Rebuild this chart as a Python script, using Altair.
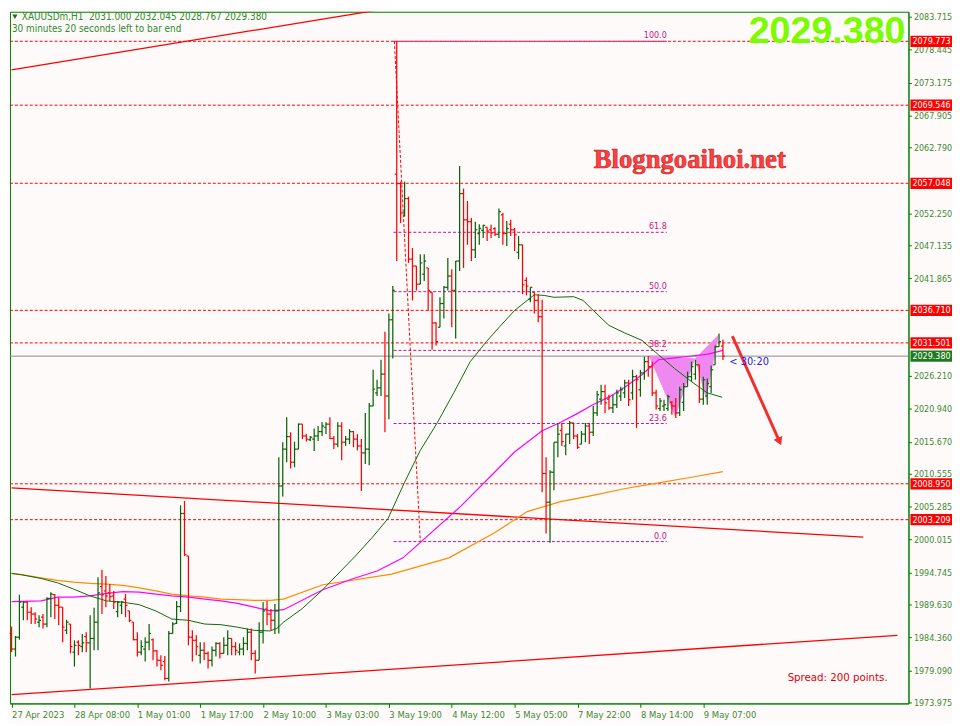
import altair as alt
import pandas as pd

# ------------------------------------------------------------------ data
opens = [1985.0, 1982.5, 1984.4, 1989.2, 1990.0, 1988.4, 1988.1, 1986.8, 1987.6, 1986.5,
         1990.6, 1991.2, 1989.5, 1989.2, 1985.5, 1986.5, 1982.0, 1983.6, 1982.9, 1984.5,
         1983.5, 1984.2, 1986.8, 1992.5, 1991.8, 1991.5, 1991.0, 1988.5, 1989.5, 1990.5,
         1988.6, 1986.8, 1984.0, 1982.0, 1982.5, 1983.6, 1984.0, 1982.2, 1980.7, 1980.5,
         1977.8, 1985.0, 1986.6, 1989.3, 2004.2, 1997.4, 1984.4, 1983.9, 1981.5, 1982.3,
         1981.8, 1980.7, 1982.3, 1983.4, 1981.8, 1983.1, 1984.2, 1982.9, 1982.0, 1982.5,
         1983.4, 1985.2, 1981.8, 1980.7, 1985.2, 1988.9, 1988.1, 1987.1, 1988.6, 2008.6,
         2014.5, 2016.5, 2012.4, 2014.5, 2018.5, 2016.6, 2016.0, 2016.1, 2016.6, 2017.3,
         2018.0, 2018.5, 2016.2, 2015.3, 2018.2, 2015.6, 2016.1, 2017.3, 2016.1, 2015.0,
         2013.9, 2014.5, 2021.4, 2023.5, 2024.3, 2026.5, 2023.0, 2035.2, 2058.5, 2057.0,
         2052.3, 2054.6, 2044.9, 2043.8, 2040.9, 2042.5, 2043.5, 2039.6, 2034.7, 2034.0,
         2037.8, 2040.4, 2042.2, 2039.9, 2044.6, 2055.4, 2051.2, 2050.9, 2046.4, 2049.0,
         2049.5, 2050.0, 2049.6, 2049.8, 2048.9, 2052.0, 2049.0, 2050.5, 2049.6, 2046.0,
         2047.2, 2041.5, 2038.5, 2039.6, 2038.3, 2035.7, 2010.6, 2006.0, 2010.8, 2015.6,
         2017.5, 2015.0, 2016.9, 2018.7, 2016.6, 2015.3, 2016.9, 2018.2, 2017.2, 2020.3,
         2022.5, 2023.7, 2022.5, 2021.1, 2021.6, 2023.0, 2023.5, 2025.1, 2023.5, 2026.1,
         2024.0, 2026.7, 2028.5, 2027.7, 2023.5, 2021.0, 2021.4, 2021.0, 2022.0, 2021.4,
         2020.3, 2022.0, 2024.5, 2026.1, 2026.5, 2028.0, 2022.5, 2023.0, 2024.5, 2028.0,
         2030.9, 2031.0]
highs = [1986.1, 1984.6, 1991.2, 1990.1, 1990.1, 1989.2, 1988.4, 1987.9, 1988.1, 1990.8,
         1991.6, 1991.3, 1990.8, 1989.2, 1987.2, 1986.5, 1983.9, 1983.9, 1984.9, 1985.2,
         1987.9, 1989.1, 1994.0, 1995.2, 1994.2, 1992.9, 1991.8, 1990.2, 1990.2, 1991.3,
         1988.6, 1986.8, 1985.2, 1983.9, 1984.4, 1986.5, 1984.2, 1982.3, 1981.5, 1981.4,
         1985.4, 1986.8, 1990.2, 2005.5, 2006.2, 1997.4, 1985.5, 1984.7, 1983.6, 1983.6,
         1982.1, 1982.9, 1983.6, 1983.6, 1984.4, 1985.5, 1984.2, 1983.6, 1983.4, 1984.4,
         1985.8, 1985.8, 1982.3, 1986.8, 1990.0, 1990.2, 1988.9, 1989.7, 2013.2, 2015.6,
         2019.6, 2017.2, 2015.7, 2018.6, 2018.5, 2016.9, 2016.6, 2017.8, 2018.2, 2018.8,
         2018.8, 2019.6, 2016.6, 2018.8, 2018.8, 2016.6, 2017.7, 2017.4, 2016.9, 2016.1,
         2020.3, 2021.9, 2027.2, 2025.6, 2028.8, 2033.3, 2036.2, 2040.6, 2079.773, 2057.3,
         2057.3, 2054.9, 2046.7, 2043.8, 2045.7, 2045.7, 2043.5, 2039.6, 2034.8, 2038.8,
         2040.6, 2045.1, 2043.3, 2044.6, 2059.8, 2056.2, 2054.2, 2051.5, 2050.9, 2050.5,
         2050.4, 2050.0, 2050.4, 2050.0, 2053.0, 2052.3, 2051.0, 2051.2, 2049.9, 2048.6,
         2047.2, 2042.0, 2040.4, 2039.6, 2039.3, 2038.4, 2013.2, 2011.1, 2015.6, 2018.7,
         2018.7, 2016.9, 2019.0, 2018.7, 2016.9, 2017.4, 2018.7, 2018.7, 2021.4, 2023.8,
         2024.8, 2024.8, 2023.2, 2023.2, 2024.0, 2024.5, 2025.6, 2025.6, 2027.2, 2026.4,
         2027.2, 2029.3, 2029.4, 2028.5, 2024.0, 2022.7, 2022.4, 2023.2, 2022.2, 2022.7,
         2024.5, 2025.1, 2026.9, 2028.5, 2028.8, 2028.0, 2026.1, 2025.8, 2027.9, 2031.1,
         2033.0, 2032.045]
lows = [1982.0, 1981.3, 1984.0, 1987.1, 1987.1, 1986.5, 1986.5, 1986.0, 1985.8, 1986.0,
        1987.6, 1987.3, 1986.3, 1983.6, 1984.9, 1981.8, 1979.7, 1981.5, 1982.0, 1982.0,
        1976.2, 1982.3, 1982.3, 1988.1, 1989.2, 1990.2, 1988.9, 1987.6, 1988.1, 1987.6,
        1986.8, 1983.9, 1981.3, 1981.5, 1980.5, 1982.3, 1980.7, 1979.7, 1979.1, 1977.5,
        1977.3, 1985.0, 1986.5, 1988.4, 1997.4, 1983.1, 1980.5, 1981.5, 1980.2, 1980.7,
        1979.4, 1979.7, 1981.3, 1981.0, 1981.8, 1981.5, 1981.5, 1981.5, 1981.5, 1981.5,
        1982.3, 1980.7, 1978.6, 1980.7, 1983.4, 1986.3, 1985.5, 1984.9, 1985.0, 2006.9,
        2012.4, 2011.4, 2011.6, 2014.5, 2016.1, 2015.7, 2015.8, 2014.2, 2015.8, 2016.6,
        2016.9, 2016.1, 2014.5, 2014.8, 2012.7, 2015.0, 2015.3, 2014.8, 2014.3, 2007.8,
        2012.1, 2011.9, 2021.4, 2023.0, 2023.0, 2017.2, 2019.3, 2029.0, 2044.6, 2050.7,
        2051.7, 2044.3, 2038.3, 2039.9, 2040.9, 2041.4, 2036.7, 2030.4, 2031.1, 2034.0,
        2035.4, 2039.9, 2034.0, 2032.2, 2043.0, 2043.5, 2047.2, 2044.6, 2045.1, 2047.2,
        2048.3, 2047.8, 2048.3, 2048.6, 2048.3, 2047.2, 2047.0, 2048.6, 2046.2, 2044.9,
        2039.3, 2039.1, 2038.0, 2036.2, 2034.8, 2007.6, 2001.0, 1999.5, 2007.9, 2013.2,
        2015.0, 2013.5, 2015.3, 2016.1, 2014.5, 2015.3, 2015.6, 2015.3, 2016.6, 2019.8,
        2021.6, 2020.3, 2020.8, 2020.3, 2021.1, 2022.2, 2022.7, 2021.4, 2022.4, 2017.9,
        2022.9, 2025.6, 2026.1, 2023.0, 2020.8, 2020.6, 2020.6, 2020.6, 2020.0, 2019.5,
        2019.8, 2020.6, 2024.5, 2025.3, 2025.6, 2021.9, 2021.6, 2021.6, 2023.5, 2028.0,
        2030.9, 2028.767]
closes = [1982.5, 1984.4, 1990.0, 1990.0, 1988.4, 1988.1, 1987.3, 1987.1, 1986.5, 1990.6,
          1991.3, 1989.5, 1989.2, 1986.0, 1986.8, 1982.9, 1983.1, 1983.1, 1983.5, 1983.5,
          1984.2, 1986.8, 1991.5, 1991.2, 1991.0, 1990.9, 1990.0, 1990.0, 1990.0, 1989.5,
          1987.1, 1984.0, 1982.0, 1982.9, 1983.6, 1985.0, 1982.2, 1980.7, 1979.9, 1977.8,
          1985.0, 1986.5, 1989.3, 2004.2, 1997.6, 1984.4, 1983.9, 1982.9, 1982.3, 1981.8,
          1980.7, 1982.3, 1983.4, 1981.8, 1983.1, 1984.2, 1982.9, 1982.3, 1982.5, 1983.4,
          1985.2, 1981.8, 1980.7, 1985.2, 1988.6, 1988.1, 1987.1, 1988.6, 2008.6, 2014.5,
          2016.5, 2012.4, 2014.5, 2018.5, 2016.6, 2016.1, 2016.4, 2016.6, 2017.3, 2018.2,
          2018.5, 2016.2, 2015.3, 2018.2, 2015.6, 2016.1, 2017.3, 2016.1, 2015.0, 2013.9,
          2014.5, 2021.4, 2024.1, 2024.3, 2026.5, 2023.0, 2035.2, 2039.9, 2057.0, 2052.3,
          2054.6, 2044.9, 2043.8, 2040.9, 2044.3, 2044.6, 2039.9, 2034.7, 2031.7, 2037.8,
          2040.4, 2042.2, 2039.9, 2044.6, 2055.4, 2051.2, 2050.9, 2046.4, 2049.6, 2049.8,
          2050.3, 2049.4, 2049.1, 2048.9, 2052.5, 2049.0, 2049.8, 2049.6, 2048.8, 2047.2,
          2040.8, 2040.6, 2040.4, 2038.3, 2035.7, 2010.6, 2006.0, 2010.8, 2015.6, 2016.9,
          2015.7, 2016.9, 2018.7, 2016.6, 2014.8, 2016.9, 2018.2, 2017.2, 2020.3, 2023.2,
          2023.7, 2021.9, 2021.1, 2021.6, 2023.5, 2024.0, 2025.1, 2022.4, 2026.1, 2025.6,
          2026.7, 2028.5, 2027.7, 2023.5, 2021.4, 2022.2, 2021.6, 2022.9, 2021.4, 2020.3,
          2024.0, 2024.5, 2026.1, 2027.7, 2028.0, 2022.5, 2025.6, 2025.0, 2027.2, 2030.9,
          2031.7, 2029.38]

time_label_bars = [0, 16, 32, 48, 64, 80, 96, 112, 128, 144, 160, 176]
time_labels = ["27 Apr 2023", "28 Apr 08:00", "1 May 01:00", "1 May 17:00", "2 May 10:00",
               "3 May 03:00", "3 May 19:00", "4 May 12:00", "5 May 05:00", "7 May 22:00",
               "8 May 14:00", "9 May 07:00"]
price_ticks = [2083.715, 2078.445, 2073.175, 2067.905, 2062.790, 2052.250, 2047.135,
               2041.865, 2026.210, 2020.940, 2015.670, 2010.555, 2005.285, 2000.015,
               1994.745, 1989.630, 1984.360, 1979.090, 1973.975]

# moving averages (bar index, price)
ma_fast_bar = [0, 2.5, 7.5, 11.7, 15.8, 20, 24.2, 28.3, 32.5, 36.7, 40.8, 45, 49.2, 53.3, 57.5,
               61.7, 65.8, 67.5, 69.2, 74, 79, 87.5, 91.7, 95.8, 100, 104, 108.3, 112.5, 116.7,
               120.8, 124.2, 128, 133, 135.5, 138, 143, 145.4, 148, 152, 156, 160.4, 164.6,
               168.7, 173, 177, 180.8]
ma_fast_val = [1994.6, 1994.4, 1993.8, 1993.1, 1992.1, 1991.0, 1990.2, 1990.0, 1989.6, 1988.6,
               1987.3, 1987.1, 1986.5, 1986.4, 1986.0, 1985.5, 1985.4, 1985.8, 1986.8, 1989.0,
               1991.9, 1997.4, 2000.3, 2003.4, 2009.2, 2014.3, 2018.7, 2023.5, 2028.5, 2031.7,
               2034.1, 2036.7, 2039.2, 2039.1, 2038.8, 2038.9, 2038.3, 2036.7, 2034.3, 2033.1,
               2031.9, 2029.6, 2027.4, 2025.3, 2023.5, 2022.8]
ma_mid_bar = [0, 7.5, 11.7, 15.8, 20, 24.2, 28.3, 32.5, 36.7, 40.8, 45, 49.2, 53.3, 57.5, 61.7,
              65.8, 69.2, 79.2, 87, 93, 99.6, 114.2, 122.9, 127.9, 134.9, 139.7, 143.7, 147.9,
              152.2, 156.2, 160.4, 164.6, 168.7, 173, 177.2, 181]
ma_mid_val = [1990.1, 1990.2, 1990.8, 1990.8, 1991.0, 1991.4, 1991.7, 1991.6, 1991.3, 1991.0,
              1990.8, 1990.5, 1990.2, 1989.8, 1989.2, 1988.6, 1988.8, 1992.0, 1993.8, 1995.0,
              1997.1, 2005.3, 2010.8, 2014.0, 2017.4, 2018.8, 2020.1, 2021.6, 2022.9, 2024.5,
              2026.4, 2028.8, 2029.1, 2029.4, 2029.7, 2030.3]
ma_slow_bar = [0, 2.5, 7.5, 11.7, 15.8, 20, 24.2, 28.3, 32.5, 36.7, 40.8, 45, 49.2, 53.3, 57.5,
               61.7, 65.8, 69.2, 79.2, 96.7, 111.3, 122.9, 131.2, 139.7, 147.9, 156.2, 164.6,
               173, 181]
ma_slow_val = [1994.6, 1994.4, 1993.9, 1993.5, 1993.2, 1993.0, 1992.9, 1992.7, 1992.3, 1991.8,
               1991.3, 1991.0, 1990.8, 1990.5, 1990.4, 1990.3, 1990.3, 1990.5, 1992.8, 1994.5,
               1997.1, 2001.1, 2004.5, 2006.1, 2007.1, 2008.2, 2009.1, 2010.0, 2010.9]

level_prices = [2079.773, 2069.546, 2057.048, 2036.710, 2031.501, 2008.950, 2003.209]
last_price = 2029.380

fib_names = ["100.0", "61.8", "50.0", "38.2", "23.6", "0.0"]
fib_prices = [2079.773, 2049.2, 2039.7, 2030.3, 2018.6, 1999.7]
fib_start_bar, fib_end_bar = 97.2, 166.7
fib_diag_bar = [97.4, 104.0]
fib_diag_price = [2079.773, 1999.7]

trend_id = ["a", "a", "b", "b", "c", "c"]
trend_bar = [0, 98.4, 0, 216.7, 0, 225.4]
trend_price = [2075.2, 2085.3, 2008.3, 2000.4, 1975.2, 1984.7]

tri1_bar = [162.1, 168.9, 173.9]
tri1_top = [2029.5, 2029.3, 2029.0]
tri1_bot = [2029.5, 2019.6, 2029.0]
tri2_bar = [173.9, 176.7, 180.0]
tri2_top = [2029.0, 2030.8, 2032.9]
tri2_bot = [2029.0, 2022.5, 2032.9]

arrow_bar = [183.4, 195.4]
arrow_price = [2032.6, 2015.7]

header_line1 = "XAUUSDm,H1\u00a0 2031.000 2032.045 2028.767 2029.380"
header_line2 = "30 minutes 20 seconds left to bar end"
big_price = "2029.380"
blog_text = "Blogngoaihoi.net"
timer_text = "< 30:20"
spread_text = "Spread: 200 points."

# ------------------------------------------------------------------ style
FRAME = "#008000"
UP = "#086408"
DOWN = "#FF0000"
AXLBL = "#3C8A32"
FIB = "#C71585"
BG = "#FFFAFA"
FONT = "DejaVu Sans Condensed, Liberation Sans, sans-serif"

XS = alt.Scale(domain=[-0.4, 228.2], nice=False, zero=False)
YS = alt.Scale(domain=[1973.8, 2084.5], nice=False, zero=False)

label_expr = ("[" + ",".join("'" + s + "'" for s in time_labels) + "][indexof(["
              + ",".join(str(v) for v in time_label_bars) + "], datum.value)]")

X_AXIS = alt.Axis(values=time_label_bars, labelExpr=label_expr, orient="bottom",
                  labelAlign="left", labelBaseline="top", labelPadding=2, tickSize=4,
                  tickColor=FRAME, domainColor=FRAME, labelColor=AXLBL, labelFont=FONT,
                  labelFontSize=9.5, grid=False, labelFlush=False, labelOverlap=False,
                  title=None)
Y_AXIS = alt.Axis(orient="right", values=price_ticks, format=".3f", tickSize=3,
                  tickColor=FRAME, domainColor=FRAME, labelColor=AXLBL, labelFont=FONT,
                  labelFontSize=9, labelPadding=2, grid=False, labelFlush=False,
                  labelOverlap=False, title=None)


def X(f):
    return alt.X(f, type="quantitative", scale=XS, axis=X_AXIS, title=None)


def Y(f):
    return alt.Y(f, type="quantitative", scale=YS, axis=Y_AXIS, title=None)


# ------------------------------------------------------------------ layers
n = len(opens)
bars = pd.DataFrame({"i": list(range(n)), "o": opens, "h": highs, "l": lows, "c": closes})
bars["dir"] = ["up" if c >= o else "down" for o, c in zip(opens, closes)]
bcolor = alt.Color("dir:N", scale=alt.Scale(domain=["up", "down"], range=[UP, DOWN]), legend=None)
bbase = alt.Chart(bars)

wick = bbase.mark_rule(strokeWidth=1.25).encode(
    x=X("i"), y=Y("l"), y2=alt.Y2("h"), color=bcolor)
otick = bbase.transform_calculate(io="datum.i - 0.5").mark_rule(strokeWidth=1.25).encode(
    x=X("io"), x2=alt.X2("i"), y=Y("o"), color=bcolor)
ctick = bbase.transform_calculate(ic="datum.i + 0.5").mark_rule(strokeWidth=1.25).encode(
    x=X("i"), x2=alt.X2("ic"), y=Y("c"), color=bcolor)

levels_df = pd.DataFrame({"p": level_prices, "lab": [f"{p:.3f}" for p in level_prices]})
levels = alt.Chart(levels_df).mark_rule(color=DOWN, strokeWidth=1, strokeDash=[3, 2]).encode(y=Y("p"))

last_df = pd.DataFrame({"p": [last_price], "lab": [f"{last_price:.3f}"]})
bid = alt.Chart(last_df).mark_rule(color="#8A8A8A", strokeWidth=1).encode(y=Y("p"))

fib_df = pd.DataFrame({"p": fib_prices, "name": fib_names,
                       "s": [fib_start_bar] * len(fib_prices), "e": [fib_end_bar] * len(fib_prices)})
fib_lines = alt.Chart(fib_df).mark_rule(color=FIB, strokeWidth=1, strokeDash=[3, 2]).encode(
    x=X("s"), x2=alt.X2("e"), y=Y("p"))
fib_text = alt.Chart(fib_df).mark_text(align="right", baseline="bottom", dy=-1, color=FIB,
                                       font=FONT, fontSize=9).encode(x=X("e"), y=Y("p"), text="name:N")

fib_diag = alt.Chart(pd.DataFrame({"i": fib_diag_bar, "p": fib_diag_price})).mark_line(
    color=DOWN, strokeWidth=1, strokeDash=[3, 2]).encode(x=X("i"), y=Y("p"))

trend = alt.Chart(pd.DataFrame({"id": trend_id, "i": trend_bar, "p": trend_price})).mark_line(
    color=DOWN, strokeWidth=1.3, clip=True).encode(x=X("i"), y=Y("p"), detail="id:N")

tri1 = alt.Chart(pd.DataFrame({"i": tri1_bar, "t": tri1_top, "b": tri1_bot})).mark_area(
    color="#EE82EE", opacity=0.95).encode(x=X("i"), y=Y("t"), y2=alt.Y2("b"))
tri2 = alt.Chart(pd.DataFrame({"i": tri2_bar, "t": tri2_top, "b": tri2_bot})).mark_area(
    color="#EE82EE", opacity=0.95).encode(x=X("i"), y=Y("t"), y2=alt.Y2("b"))

ma_fast = alt.Chart(pd.DataFrame({"i": ma_fast_bar, "p": ma_fast_val})).mark_line(
    color="#0B6B0B", strokeWidth=1).encode(x=X("i"), y=Y("p"))
ma_mid = alt.Chart(pd.DataFrame({"i": ma_mid_bar, "p": ma_mid_val})).mark_line(
    color="#FF00FF", strokeWidth=1.2).encode(x=X("i"), y=Y("p"))
ma_slow = alt.Chart(pd.DataFrame({"i": ma_slow_bar, "p": ma_slow_val})).mark_line(
    color="#FF8C00", strokeWidth=1.2).encode(x=X("i"), y=Y("p"))

arrow_df = pd.DataFrame({"i": arrow_bar, "p": arrow_price})
arrow_line = alt.Chart(arrow_df).mark_line(color="#F03030", strokeWidth=3).encode(x=X("i"), y=Y("p"))
arrow_head = alt.Chart(arrow_df.tail(1)).mark_point(
    shape="triangle-down", filled=True, size=90, angle=336, color="#F03030", opacity=1).encode(
    x=X("i"), y=Y("p"))

one = pd.DataFrame({"k": [0]})
hdr_mark = alt.Chart(one).mark_point(shape="triangle-down", filled=True, size=28,
                                     color="#1E6B1E", opacity=1).encode(x=alt.value(5), y=alt.value(5))
hdr1 = alt.Chart(one).mark_text(text=header_line1, align="left", baseline="middle", font=FONT,
                                fontSize=10, color="#2E8B2E").encode(x=alt.value(12), y=alt.value(5))
hdr2 = alt.Chart(one).mark_text(text=header_line2, align="left", baseline="middle", font=FONT,
                                fontSize=10, color="#2E8B2E").encode(x=alt.value(2), y=alt.value(17))
big = alt.Chart(one).mark_text(text=big_price, align="right", baseline="alphabetic",
                               font="Liberation Sans", fontWeight="bold", fontSize=38,
                               color="#7CFC00").encode(x=alt.value(905), y=alt.value(32))
blog = alt.Chart(one).mark_text(text=blog_text, align="center", baseline="alphabetic",
                                font="Liberation Serif", fontWeight="bold", fontSize=27,
                                color="#FF4040", stroke="#B82020", strokeWidth=0.6).encode(
    x=alt.value(687), y=alt.value(158))
timer = alt.Chart(one).mark_text(text=timer_text, align="left", baseline="middle", font=FONT,
                                 fontSize=11, color="#2020F0").encode(x=alt.value(727), y=alt.value(354))
spread = alt.Chart(one).mark_text(text=spread_text, align="right", baseline="middle", font=FONT,
                                  fontSize=11.5, color="#E00000").encode(x=alt.value(887), y=alt.value(673))

box_red = alt.Chart(levels_df).transform_calculate(
    p1="datum.p + 0.9", p2="datum.p - 0.9").mark_rect(color=DOWN).encode(
    x=alt.value(910), x2=alt.value(952), y=Y("p1"), y2=alt.Y2("p2"))
box_red_txt = alt.Chart(levels_df).mark_text(align="left", baseline="middle", color="white",
                                             font=FONT, fontSize=9).encode(
    x=alt.value(912), y=Y("p"), text="lab:N")
box_grn = alt.Chart(last_df).transform_calculate(
    p1="datum.p + 0.9", p2="datum.p - 0.9").mark_rect(color="#1E7B1E").encode(
    x=alt.value(910), x2=alt.value(952), y=Y("p1"), y2=alt.Y2("p2"))
box_grn_txt = alt.Chart(last_df).mark_text(align="left", baseline="middle", color="white",
                                           font=FONT, fontSize=9).encode(
    x=alt.value(912), y=Y("p"), text="lab:N")

chart = alt.layer(
    levels, bid, fib_lines, trend, fib_diag, tri1, tri2, fib_text,
    ma_slow, ma_mid, ma_fast, wick, otick, ctick, arrow_line, arrow_head,
    hdr_mark, hdr1, hdr2, big, blog, timer, spread,
    box_red, box_red_txt, box_grn, box_grn_txt,
).properties(
    width=908, height=699, background=BG, padding=0,
).configure_view(stroke=FRAME, strokeWidth=1, fill=BG)

chart.save("out.html", embed_options={"renderer": "svg", "actions": False})
